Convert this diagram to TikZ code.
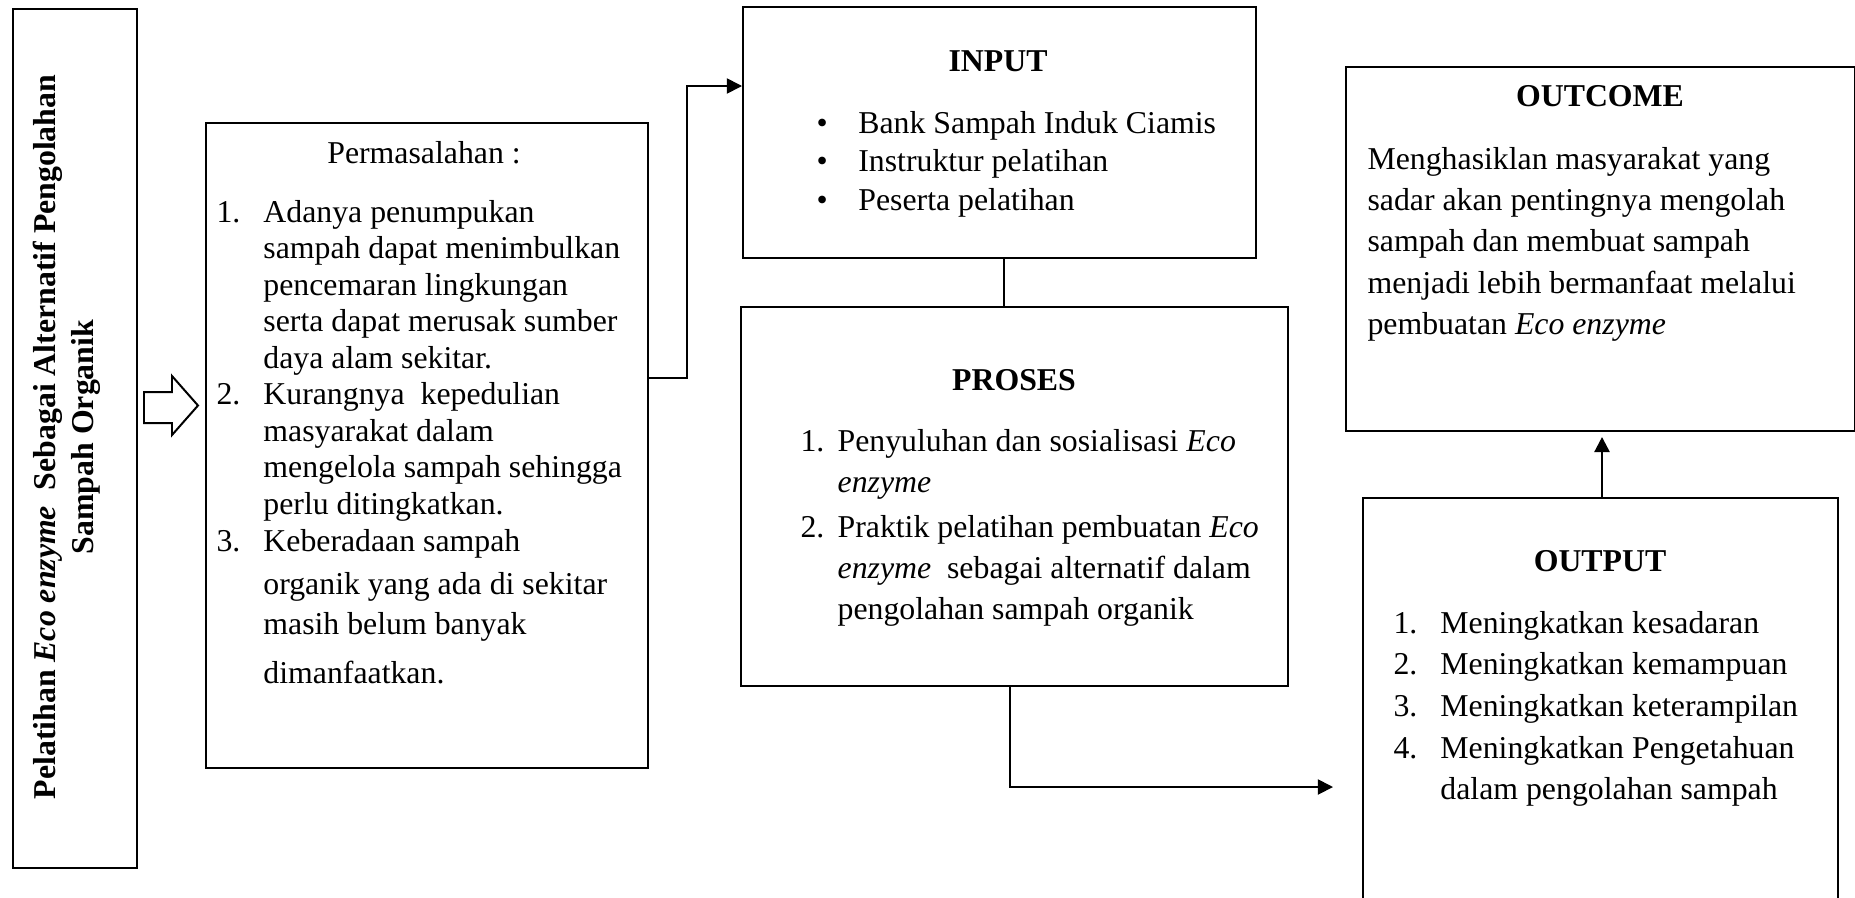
\documentclass[tikz,border=0pt]{standalone}
\usepackage{fontspec}
\setmainfont{Liberation Serif}
\usetikzlibrary{arrows.meta,positioning}

\newcommand\pxl{0.3774pt}

\begin{document}
\begin{tikzpicture}[x=0.3774pt,y=-0.3774pt]
    \tikzset{>={Triangle[length=5.7pt,width=5.7pt]}}
    \tikzset{kotak/.style={draw,line width=0.75pt,inner sep=0pt,anchor=north west}}
    \tikzset{teks/.style={inner sep=0pt,font=\fontsize{12pt}{15.5pt}\selectfont}}
    \tikzset{judul/.style={teks,anchor=base,font=\fontsize{12pt}{15.5pt}\selectfont\bfseries}}
  %\draw[step=100,gray,very thin] (0,0) grid (1855,897);
  \useasboundingbox (0,0) rectangle (1855,897);
  \clip (0,0) rectangle (1855,897);

  % kotak
  \node[kotak,minimum width=124*\pxl,minimum height=859*\pxl] (Pelatihan) at (12,8) {};
  \node[kotak,minimum width=442*\pxl,minimum height=645*\pxl] (Masalah) at (205,122) {};
  \node[kotak,minimum width=513*\pxl,minimum height=251*\pxl] (Input) at (742,6) {};
  \node[kotak,minimum width=547*\pxl,minimum height=379*\pxl] (Proses) at (740,306) {};
  \node[kotak,minimum width=509*\pxl,minimum height=364*\pxl] (Outcome) at (1345,66) {};
  \node[kotak,minimum width=475*\pxl,minimum height=500*\pxl] (Output) at (1362,497) {};

  % judul samping
  \node[teks,rotate=90,align=center,font=\fontsize{12pt}{14.5pt}\selectfont\bfseries] (JP) at (67,437)
    {Pelatihan \textit{Eco enzyme}\ \ Sebagai Alternatif Pengolahan\\Sampah Organik};

  \draw[line width=0.75pt] (144,392) -- (172,392) -- (172,376) -- (198,405.5)
    -- (172,435) -- (172,423) -- (144,423) -- cycle;

  % permasalahan
  \node[teks,anchor=base] (JM) at (424,163) {Permasalahan :};
  \node[teks,anchor=base west,font=\fontsize{12pt}{13.8pt}\selectfont] (LM) at (216,222)
    {\begin{tabular}[t]{@{}p{17.7pt}@{}l@{}}
      1. & Adanya penumpukan\\
         & sampah dapat menimbulkan\\
         & pencemaran lingkungan\\
         & serta dapat merusak sumber\\
         & daya alam sekitar.\\
      2. & Kurangnya\ \ kepedulian\\
         & masyarakat dalam\\
         & mengelola sampah sehingga\\
         & perlu ditingkatkan.\\
      3. & Keberadaan sampah\\[2.5pt]
         & organik yang ada di sekitar\\[1.3pt]
         & masih belum banyak\\[4.7pt]
         & dimanfaatkan.
    \end{tabular}};

  % input
  \node[judul] (JI) at (998,71) {INPUT};
  \node[teks,anchor=base west,font=\fontsize{12pt}{14.7pt}\selectfont] (LI) at (816,133)
    {\begin{tabular}[t]{@{}p{15.8pt}@{}l@{}}
      \textbullet & Bank Sampah Induk Ciamis\\
      \textbullet & Instruktur pelatihan\\
      \textbullet & Peserta pelatihan
    \end{tabular}};

  % proses
  \node[judul] (JPr) at (1014,390) {PROSES};
  \node[teks,anchor=base west] (LPr) at (800,451)
    {\begin{tabular}[t]{@{}p{14pt}@{}l@{}}
      1. & Penyuluhan dan sosialisasi \textit{Eco}\\
         & \textit{enzyme}\\[1.5pt]
      2. & Praktik pelatihan pembuatan \textit{Eco}\\
         & \textit{enzyme}\ \ sebagai alternatif dalam\\
         & pengolahan sampah organik
    \end{tabular}};

  % outcome
  \node[judul] (JO) at (1600,106) {OUTCOME};
  \node[teks,anchor=base west,font=\fontsize{12pt}{15.6pt}\selectfont] (LO) at (1367,169)
    {\begin{tabular}[t]{@{}l@{}}
      Menghasiklan masyarakat yang\\
      sadar akan pentingnya mengolah\\
      sampah dan membuat sampah\\
      menjadi lebih bermanfaat melalui\\
      pembuatan \textit{Eco enzyme}
    \end{tabular}};

  % output
  \node[judul] (JOt) at (1600,571) {OUTPUT};
  \node[teks,anchor=base west,font=\fontsize{12pt}{15.75pt}\selectfont] (LOt) at (1393,633)
    {\begin{tabular}[t]{@{}p{17.7pt}@{}l@{}}
      1. & Meningkatkan kesadaran\\
      2. & Meningkatkan kemampuan\\
      3. & Meningkatkan keterampilan\\
      4. & Meningkatkan Pengetahuan\\
         & dalam pengolahan sampah
    \end{tabular}};

  % garis
  \coordinate (k1) at (687,378);
  \coordinate (k2) at (687,86);
  \coordinate (k3) at (1004,280);
  \coordinate (k4) at (1010,787);
  \coordinate (k5) at (1333,787);
  \coordinate (k6) at (1602,437);

  \draw[->,line width=0.65pt] (Masalah.east |- k1) -- (k1) -- (k2) -- (Input.west |- k2);
  \draw[line width=0.65pt] (Input.south -| k3) -- (Proses.north -| k3);
  \draw[->,line width=0.65pt] (Proses.south -| k4) -- (k4) -- (k5);
  \draw[->,line width=0.9pt] (Output.north -| k6) -- (k6);

\end{tikzpicture}
\end{document}
